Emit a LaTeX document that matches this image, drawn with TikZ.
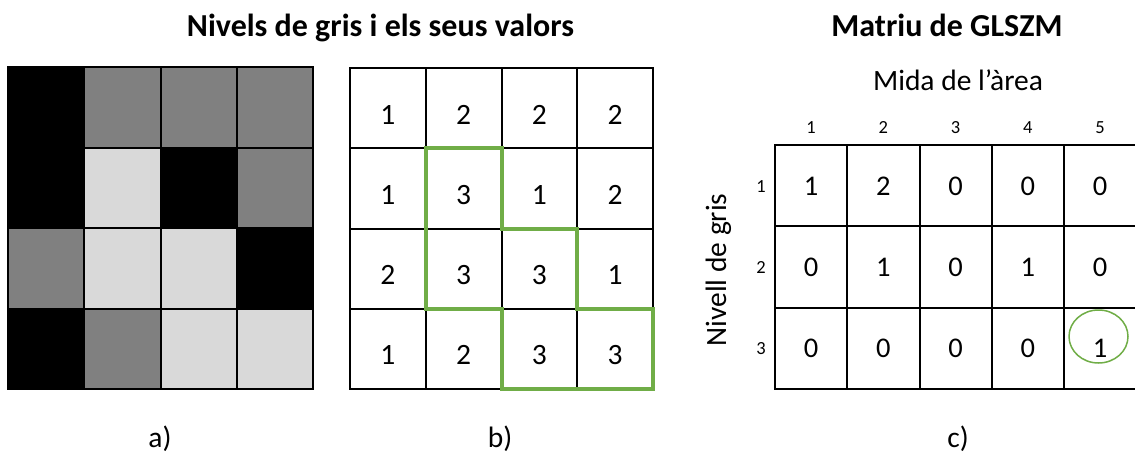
\documentclass[tikz,border=0pt]{standalone}
\usepackage{fontspec}
\setmainfont{Carlito}
\usetikzlibrary{shapes.geometric}
\definecolor{pixdark}{HTML}{000000}
\definecolor{pixmid}{HTML}{808080}
\definecolor{pixlight}{HTML}{D9D9D9}
\definecolor{zonegreen}{HTML}{70AD47}
\begin{document}
\begin{tikzpicture}[x=1pt,y=-1pt,
  gridline/.style={draw=black, line width=2pt},
  cellbase/.style={inner sep=0pt, outer sep=0pt},
  pixcell/.style={cellbase, gridline, minimum width=76.25pt, minimum height=80.5pt},
  valcell/.style={cellbase, gridline, minimum width=75.75pt, minimum height=80.25pt},
  zonecell/.style={cellbase, minimum width=72.25pt, minimum height=81.33pt},
  bignum/.style={font=\fontsize{29.5}{34}\selectfont, anchor=base, inner sep=0pt},
  matnum/.style={font=\fontsize{28.5}{33}\selectfont, anchor=base, inner sep=0pt},
  smallnum/.style={font=\fontsize{18.5}{22}\selectfont, anchor=base, inner sep=0pt},
  titletext/.style={font=\bfseries\fontsize{32}{38}\selectfont, anchor=base, inner sep=0pt},
  plaintext/.style={font=\fontsize{29.5}{34}\selectfont, anchor=base, inner sep=0pt},
  zone/.style={draw=zonegreen, line width=4pt, line join=miter},
]
\useasboundingbox (0,0) rectangle (1135,456);

% titles
\node[titletext] (title-left) at (380.5,36) {Nivels de gris i els seus valors};
\node[titletext] (title-right) at (947,36) {Matriu de GLSZM};

% a) grey-level image
\foreach \c [count=\i from 0] in {pixdark,pixmid,pixmid,pixmid,
                                  pixdark,pixlight,pixdark,pixmid,
                                  pixmid,pixlight,pixlight,pixdark,
                                  pixdark,pixmid,pixlight,pixlight}{
  \pgfmathtruncatemacro{\r}{int(\i/4)+1}
  \pgfmathtruncatemacro{\k}{mod(\i,4)+1}
  \node[pixcell, fill=\c] (a-\r-\k) at ({8+76.25*(\k-0.5)},{67+80.5*(\r-0.5)}) {};
}

% b) grey-level values
\foreach \v [count=\i from 0] in {1,2,2,2, 1,3,1,2, 2,3,3,1, 1,2,3,3}{
  \pgfmathtruncatemacro{\r}{int(\i/4)+1}
  \pgfmathtruncatemacro{\k}{mod(\i,4)+1}
  \node[valcell] (b-\r-\k) at ({350+75.75*(\k-0.5)},{68+80.25*(\r-0.5)}) {};
  \node[bignum] (bv-\r-\k) at ({350+75.75*(\k-0.5)},{68+80.25*(\r-1)+56}) {\v};
}

% connected zone of grey level 3
\draw[zone] (b-2-2.north west) -- (b-2-2.north east) -- (b-3-3.north west)
  -- (b-3-3.north east) -- (b-4-4.north west) -- (b-4-4.north east)
  -- (b-4-4.south east) -- (b-4-3.south west) -- (b-4-3.north west)
  -- (b-3-2.south west) -- cycle;

% c) GLSZM matrix
\node[plaintext] (size-label) at (958,90) {Mida de l’àrea};
\node[plaintext, rotate=90] (level-label) at (726,270) {Nivell de gris};

\foreach \k in {1,...,5}{
  \node[smallnum] (col-\k) at ({775+72.25*(\k-0.5)},133) {\k};
}
\foreach \r in {1,2,3}{
  \node[smallnum] (row-\r) at (761,{145+81.33*(\r-1)+47}) {\r};
}

\foreach \v [count=\i from 0] in {1,2,0,0,0, 0,1,0,1,0, 0,0,0,0,1}{
  \pgfmathtruncatemacro{\r}{int(\i/5)+1}
  \pgfmathtruncatemacro{\k}{mod(\i,5)+1}
  \ifnum\k<5
    \node[zonecell, gridline] (c-\r-\k) at ({775+72.25*(\k-0.5)},{145+81.33*(\r-0.5)}) {};
  \else
    \node[zonecell, minimum width=71pt] (c-\r-\k) at ({1064+35.5},{145+81.33*(\r-0.5)}) {};
  \fi
  \node[matnum] (cv-\r-\k) at ({775+72.25*(\k-0.5)},{145+81.33*(\r-1)+50}) {\v};
}
% last column continues past the right edge
\foreach \r in {1,2,3}{
  \draw[black, line width=2pt] (c-\r-5.north west) -- (c-\r-5.north east);
}
\draw[black, line width=2pt] (c-3-5.south west) -- (c-3-5.south east);

% highlighted zone count
\node[draw=zonegreen, line width=1.5pt, ellipse, inner sep=0pt,
      minimum width=59pt, minimum height=53pt] (mark) at (1098.5,336.5) {};

% panel labels
\node[plaintext] (lab-a) at (160,447) {a)};
\node[plaintext] (lab-b) at (500,447) {b)};
\node[plaintext] (lab-c) at (958,447) {c)};
\end{tikzpicture}
\end{document}
